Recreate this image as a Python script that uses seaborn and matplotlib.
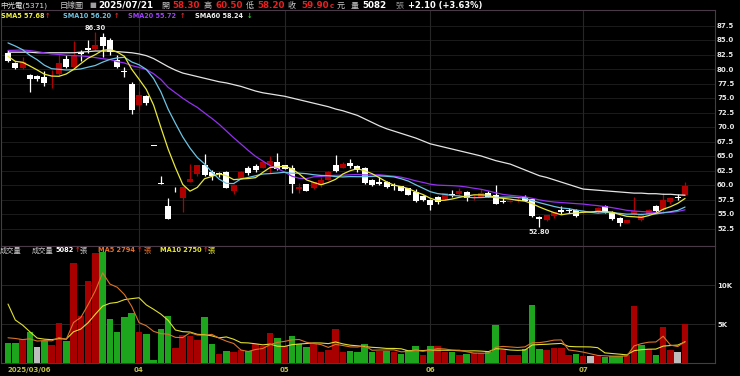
import numpy as np
import pandas as pd
import matplotlib
matplotlib.use("Agg")
import matplotlib.pyplot as plt
import seaborn as sns

# ---------------- data ----------------
month_tick_days = [0, 18, 38, 58, 79]
month_tick_labels = ["2025/03/06", "04", "05", "06", "07"]

open_ = [82.7, 81.1, 80.1, 79.0, 78.8, 78.6, 78.4, 79.1, 81.7, 80.4,
         82.9, 83.7, 83.4, 85.5, 85.0, 81.6, 79.7, 77.4, 73.8, 75.3,
         66.8, 60.4, 56.3, 59.6, 57.7, 60.6, 61.9, 63.4, 62.3, 62.1,
         62.3, 58.9, 61.2, 63.0, 63.3, 63.0, 63.4, 63.9, 63.4, 63.0,
         59.3, 60.1, 59.4, 60.0, 60.9, 63.4, 63.0, 63.8, 63.3, 62.9,
         60.9, 60.6, 60.6, 60.0, 59.8, 59.4, 58.8, 58.1, 57.4, 58.0,
         57.5, 58.5, 58.5, 58.8, 57.7, 58.0, 58.7, 58.3, 57.3, 57.1,
         57.2, 58.0, 57.5, 54.4, 53.9, 54.7, 55.7, 55.7, 55.7, 55.1,
         55.4, 55.3, 56.3, 55.3, 54.3, 53.5, 54.9, 54.0, 55.0, 56.3,
         55.7, 57.0, 58.0, 58.3]
high = [83.2, 81.2, 82.1, 79.1, 79.0, 79.7, 79.8, 82.6, 82.4, 84.9,
        83.3, 85.0, 86.3, 86.2, 85.3, 82.4, 80.4, 77.7, 76.2, 75.5,
        66.8, 61.6, 57.7, 59.7, 59.9, 63.7, 63.5, 65.3, 62.6, 62.3,
        62.5, 60.2, 62.4, 63.2, 63.7, 64.2, 65.0, 65.5, 63.5, 63.4,
        60.3, 60.2, 60.6, 61.4, 62.4, 65.2, 63.9, 64.4, 63.4, 63.1,
        61.0, 61.4, 60.7, 60.3, 59.9, 59.5, 59.3, 58.2, 57.6, 58.1,
        58.7, 59.2, 59.4, 58.9, 58.3, 59.3, 58.9, 60.0, 57.7, 57.5,
        58.0, 58.3, 57.8, 54.6, 54.9, 55.4, 56.4, 56.1, 55.8, 55.7,
        55.6, 56.2, 56.6, 55.6, 54.5, 54.0, 58.0, 55.2, 55.8, 56.5,
        58.6, 57.8, 58.4, 60.5]
low = [81.2, 80.0, 80.0, 76.1, 78.0, 77.1, 76.8, 78.8, 80.2, 80.3,
       81.3, 82.8, 83.3, 82.1, 82.5, 80.2, 78.7, 72.2, 72.9, 73.8,
       66.8, 60.2, 54.2, 58.8, 55.4, 60.5, 61.6, 61.6, 60.9, 61.4,
       59.4, 58.4, 61.1, 61.7, 62.3, 62.9, 62.0, 62.6, 62.7, 58.6,
       58.7, 58.9, 59.3, 59.7, 60.9, 62.3, 62.9, 62.9, 62.3, 60.1,
       59.9, 60.0, 59.4, 59.1, 58.9, 58.2, 57.0, 57.3, 55.7, 56.8,
       57.4, 57.9, 58.3, 57.2, 57.4, 57.9, 57.9, 56.8, 56.9, 57.0,
       57.1, 57.2, 54.5, 52.8, 53.8, 54.3, 55.0, 55.1, 54.5, 55.0,
       55.3, 55.1, 55.1, 54.0, 53.0, 53.4, 54.8, 53.8, 54.9, 55.2,
       55.1, 56.8, 57.4, 58.2]
close = [81.3, 80.1, 81.2, 78.3, 78.3, 77.6, 78.5, 81.0, 80.3, 82.2,
         82.6, 83.2, 84.1, 84.0, 83.0, 80.3, 79.5, 72.9, 75.5, 74.2,
         66.8, 60.2, 54.2, 59.6, 59.7, 61.0, 63.4, 61.7, 61.6, 61.9,
         59.4, 60.0, 62.3, 62.0, 62.6, 64.0, 64.2, 62.7, 62.8, 60.2,
         59.7, 59.0, 60.5, 60.8, 62.2, 62.4, 63.6, 63.3, 62.6, 60.3,
         60.0, 60.1, 59.7, 59.8, 59.0, 58.3, 57.3, 57.4, 56.6, 57.0,
         58.6, 58.3, 58.9, 57.7, 58.0, 58.6, 58.0, 56.8, 57.1, 57.3,
         57.6, 57.3, 54.6, 54.2, 54.8, 55.3, 55.4, 55.6, 54.7, 55.5,
         55.5, 56.0, 55.4, 54.2, 53.5, 53.9, 55.6, 54.9, 55.7, 55.5,
         57.4, 57.8, 57.8, 59.9]
volume = [2560, 2560, 3080, 3970, 2090, 2860, 2390, 5130, 2860, 12900,
          6070, 10600, 14100, 14300, 5730, 4020, 5900, 6450, 3970, 3720,
          430, 4440, 6110, 1920, 3590, 3550, 2990, 5900, 2520, 1200,
          1580, 1500, 1710, 1580, 2480, 2220, 3930, 3200, 2220, 3460,
          2440, 2140, 2440, 1500, 1670, 4360, 1450, 1540, 1410, 2480,
          1500, 1580, 1580, 1500, 1200, 1710, 2220, 1070, 2220, 2220,
          1450, 1500, 1030, 1200, 1370, 1370, 1500, 4870, 1710, 1030,
          1030, 1880, 7520, 1790, 1710, 1970, 2000, 1070, 1200, 940,
          900, 940, 850, 940, 900, 1070, 7368, 2350, 1840, 1070,
          4700, 1710, 1410, 5082]
# closes / volumes before 2025/03/06 implied by the starting points of the MA lines
prior_close = [79.5, 80.0, 80.8, 81.5, 82.0, 82.3, 82.8, 83.0, 83.5, 83.6,
               85.5, 87.5, 88.0, 85.9, 87.1, 84.5, 82.0, 81.5, 81.7]
prior_volume = [23000, 9600, 12500, 10200, 4300, 3000, 3800, 3500, 3500]
sma60 = [82.9, 82.9, 82.9, 82.9, 82.8, 82.8, 82.8, 82.8, 82.8, 82.8,
         82.9, 83.0, 83.1, 83.1, 83.1, 83.0, 82.9, 82.8, 82.6, 82.3,
         81.8, 81.1, 80.4, 79.8, 79.3, 79.0, 78.7, 78.4, 78.1, 77.8,
         77.6, 77.3, 77.0, 76.6, 76.2, 75.9, 75.7, 75.5, 75.3, 75.0,
         74.7, 74.4, 74.1, 73.8, 73.5, 73.1, 72.8, 72.4, 72.0, 71.4,
         70.8, 70.2, 69.7, 69.3, 68.9, 68.5, 68.1, 67.6, 67.1, 66.8,
         66.5, 66.2, 65.9, 65.6, 65.3, 65.0, 64.6, 64.2, 63.9, 63.6,
         63.1, 62.6, 62.1, 61.6, 61.3, 60.9, 60.5, 60.1, 59.7, 59.3,
         59.2, 59.1, 59.0, 58.9, 58.8, 58.7, 58.6, 58.6, 58.5, 58.5,
         58.4, 58.4, 58.3, 58.24]
price_ticks = [52.5, 55.0, 57.5, 60.0, 62.5, 65.0, 67.5, 70.0, 72.5, 75.0,
               77.5, 80.0, 82.5, 85.0, 87.5]
vol_ticks = [5000, 10000]
vol_tick_labels = ["5K", "10K"]

# ---------------- derived ----------------
n = len(close)
idx = np.arange(n)
all_close = pd.Series(prior_close + close)
sma5 = all_close.rolling(5).mean().to_numpy()[-n:]
sma10 = all_close.rolling(10).mean().to_numpy()[-n:]
sma20 = all_close.rolling(20).mean().to_numpy()[-n:]
all_vol = pd.Series(prior_volume + volume, dtype=float)
vma5 = all_vol.rolling(5).mean().to_numpy()[-n:]
vma10 = all_vol.rolling(10).mean().to_numpy()[-n:]

prev = [prior_close[-1]] + close[:-1]
vcat = []
for c, p in zip(close, prev):
    if np.isclose(c, p):
        vcat.append("flat")
    elif c > p:
        vcat.append("up")
    else:
        vcat.append("down")

# ---------------- style ----------------
sns.set_style("dark", {"axes.facecolor": "black", "figure.facecolor": "black"})
plt.rcParams["font.family"] = ["DejaVu Sans", "Noto Sans CJK TC"]
BG = "black"
RED = "#b00000"
WHITE = "#ffffff"
FRAME = "#4a3a48"
GRID = "#262626"

W, H = 740, 376
fig = plt.figure(figsize=(W / 100, H / 100), dpi=100)
fig.patch.set_facecolor(BG)

def fx(px):
    return px / W

def fy(py):
    return 1 - py / H

x_left, x_right = 1, 715
p_top, p_bot = 10, 245.5
v_top, v_bot = 245.5, 363.3
ax_p = fig.add_axes([fx(x_left), fy(p_bot), (x_right - x_left) / W, (p_bot - p_top) / H])
ax_v = fig.add_axes([fx(x_left), fy(v_bot), (x_right - x_left) / W, (v_bot - v_top) / H])

xlim = ((x_left - 8) / 7.28, (x_right - 8) / 7.28)

def price_at(py):
    return 55 + (214 - py) / 5.8

# ---------------- price panel ----------------
ax = ax_p
ax.set_facecolor(BG)
for t in price_ticks:
    ax.axhline(t, color="#1b1b1b", lw=0.7, zorder=0)
for d in month_tick_days[1:]:
    ax.axvline(d, color=GRID, lw=0.8, zorder=0)

for i in range(n):
    o, h, l, c = open_[i], high[i], low[i], close[i]
    col = RED if c > o else WHITE
    ax.vlines(i, l, h, color=col, lw=0.9, zorder=3)
    bh = max(abs(c - o), 0.12)
    ax.bar(i, bh, bottom=min(o, c), width=0.82, color=col, lw=0, zorder=3)

sns.lineplot(x=idx, y=sma60, color="#e4e4e4", lw=0.9, ax=ax, zorder=4)
sns.lineplot(x=idx, y=sma20, color="#9430f0", lw=0.9, ax=ax, zorder=4)
sns.lineplot(x=idx, y=sma10, color="#6cc4e4", lw=0.9, ax=ax, zorder=4)
sns.lineplot(x=idx, y=sma5, color="#e8e83a", lw=0.9, ax=ax, zorder=5)

imax = int(np.argmax(high))
imin = int(np.argmin(low))
ax.annotate(f"{high[imax]:.2f}", (imax, high[imax]), xytext=(0, 1.2), textcoords="offset points",
            ha="center", va="bottom", color="#e8e8e8", fontsize=4.9, fontweight="bold")
ax.annotate(f"{low[imin]:.2f}", (imin, low[imin]), xytext=(0, -1.5), textcoords="offset points",
            ha="center", va="top", color="#e8e8e8", fontsize=4.9, fontweight="bold")

ax.set_xlim(*xlim)
ax.set_ylim(price_at(p_bot), price_at(p_top))
ax.set_yticks(price_ticks)
ax.set_yticklabels([f"{t:.1f}" for t in price_ticks])
ax.yaxis.tick_right()
ax.tick_params(axis="y", length=0, pad=1.5, labelsize=5.0, labelcolor="#e8e8e8")
for lab in ax.get_yticklabels():
    lab.set_fontweight("bold")
ax.set_xticks([])
ax.set_xlabel("")
ax.set_ylabel("")
for side, sp in ax.spines.items():
    sp.set_color(FRAME)
    sp.set_linewidth(0.8)
    sp.set_visible(True)

# ---------------- volume panel ----------------
av = ax_v
av.set_facecolor(BG)
df_v = pd.DataFrame({"day": idx, "vol": volume, "cat": vcat})
for t in vol_ticks:
    av.axhline(t, color=GRID, lw=0.7, zorder=0)
for d in month_tick_days[1:]:
    av.axvline(d, color=GRID, lw=0.8, zorder=0)
sns.barplot(data=df_v, x="day", y="vol", hue="cat", native_scale=True, dodge=False,
            palette={"up": "#a80000", "down": "#1ea51e", "flat": "#bdbdbd"},
            width=0.9, errorbar=None, saturation=1, legend=False, linewidth=0, ax=av, zorder=3)
sns.lineplot(x=idx, y=vma10, color="#e0e030", lw=0.8, ax=av, zorder=4)
sns.lineplot(x=idx, y=vma5, color="#d8742a", lw=0.8, ax=av, zorder=5)

av.set_xlim(*xlim)
av.set_ylim(0, (v_bot - v_top) / 7.8 * 1000)
av.set_yticks(vol_ticks)
av.set_yticklabels(vol_tick_labels)
av.yaxis.tick_right()
av.tick_params(axis="y", length=0, pad=1.5, labelsize=5.0, labelcolor="#e8e8e8")
for lab in av.get_yticklabels():
    lab.set_fontweight("bold")
av.set_xticks(month_tick_days)
av.set_xticklabels(month_tick_labels)
av.tick_params(axis="x", length=0, pad=2.5, labelsize=5.0, labelcolor="#c0c048")
for k, lab in enumerate(av.get_xticklabels()):
    lab.set_fontweight("bold")
    if k == 0:
        lab.set_ha("left")
av.set_xlabel("")
av.set_ylabel("")
for side, sp in av.spines.items():
    sp.set_color(FRAME)
    sp.set_linewidth(0.8)
    sp.set_visible(True)

# ---------------- header texts ----------------
GRAYT = "#c8c8c8"
REDT = "#e82020"
def put(px, py, s, color, size, bold=False):
    fig.text(fx(px), fy(py), s, color=color, fontsize=size,
             fontweight="bold" if bold else "normal", ha="left", va="center",
             family=["DejaVu Sans", "Noto Sans CJK TC"])

y1 = 5.5
put(0, y1, "中光電(5371)", "#dcdcdc", 5.4)
put(60, y1, "日線圖", GRAYT, 5.8)
put(89, y1, "■", "#a0a0a0", 5.2)
put(98, y1, "2025/07/21", WHITE, 6.3, True)
put(161, y1, "開", GRAYT, 5.8)
put(172, y1, f"{open_[-1]:.2f}", REDT, 6.3, True)
put(204, y1, "高", GRAYT, 5.8)
put(216, y1, f"{high[-1]:.2f}", REDT, 6.3, True)
put(246, y1, "低", GRAYT, 5.8)
put(257, y1, f"{low[-1]:.2f}", REDT, 6.3, True)
put(288, y1, "收", GRAYT, 5.8)
put(301, y1, f"{close[-1]:.2f}", REDT, 6.3, True)
put(329.5, y1 + 0.5, "c", REDT, 5.0, True)
put(337, y1, "元", GRAYT, 5.8)
put(351, y1, "量", GRAYT, 5.8)
put(362, y1, f"{volume[-1]}", WHITE, 6.3, True)
put(396, y1, "張", "#909090", 5.8)
chg = close[-1] - close[-2]
put(408, y1, f"+{chg:.2f} (+{chg / close[-2] * 100:.2f}%)", WHITE, 6.0, True)

y2 = 15.5
put(1, y2, f"SMA5 {sma5[-1]:.2f}", "#f0f040", 4.7, True)
put(45, y2, "↑", REDT, 4.7, True)
put(63, y2, f"SMA10 {sma10[-1]:.2f}", "#6cc4e4", 4.7, True)
put(113.5, y2, "↑", REDT, 4.7, True)
put(128, y2, f"SMA20 {sma20[-1]:.2f}", "#a040ff", 4.7, True)
put(179.5, y2, "↑", REDT, 4.7, True)
put(195, y2, f"SMA60 {sma60[-1]:.2f}", "#f0f0f0", 4.7, True)
put(246.5, y2, "↓", "#30d030", 4.7, True)

y3 = 250.5
put(0, y3, "成交量", GRAYT, 5.2)
put(32, y3, "成交量", GRAYT, 5.2)
put(55, y3, f"{volume[-1]}", WHITE, 4.8, True)
put(74.5, y3, "↑", REDT, 4.8, True)
put(80, y3, "張", GRAYT, 5.2)
put(98, y3, f"MA5 {vma5[-1]:.0f}", "#e8702a", 4.8, True)
put(137, y3, "↑", REDT, 4.8, True)
put(143, y3, "張", "#e8702a", 5.2)
put(160, y3, f"MA10 {vma10[-1]:.0f}", "#e8e830", 4.8, True)
put(203, y3, "↑", REDT, 4.8, True)
put(208, y3, "張", "#e8e830", 5.2)

fig.savefig("out.png", dpi=100, facecolor=BG)
